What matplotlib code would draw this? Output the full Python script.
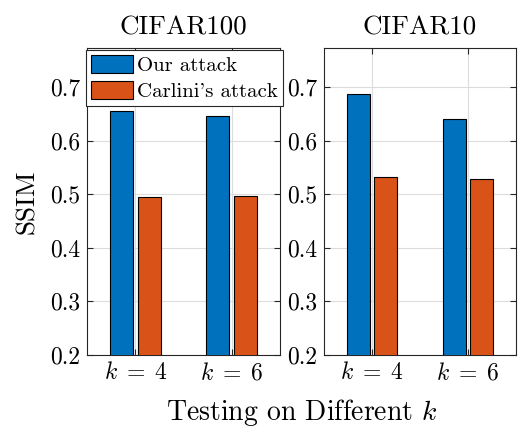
import numpy as np
import matplotlib
matplotlib.use("Agg")
import matplotlib.pyplot as plt

plt.rcParams['font.family'] = 'cmr10'
plt.rcParams['mathtext.fontset'] = 'cm'
plt.rcParams['axes.formatter.use_mathtext'] = True

groups = [r'$k\;=\;4$', r'$k\;=\;6$']
titles = ['CIFAR100', 'CIFAR10']
ours = [[0.655, 0.647], [0.688, 0.641]]
carlini = [[0.495, 0.496], [0.533, 0.528]]
series_names = ['Our attack', "Carlini's attack"]
colors = ['#0072BD', '#D95319']
yticks = [0.2, 0.3, 0.4, 0.5, 0.6, 0.7]

W, H = 518, 428
fig = plt.figure(figsize=(W / 100, H / 100), dpi=100)
ax_rects = [[87 / W, 73 / H, 193 / W, 307 / H],
            [324 / W, 73 / H, 192 / W, 307 / H]]

x = np.arange(1, len(groups) + 1)
width = 0.24
off = 0.145
for i, rect in enumerate(ax_rects):
    ax = fig.add_axes(rect)
    b1 = ax.bar(x - off, ours[i], width, color=colors[0], edgecolor='black', linewidth=0.8, zorder=3)
    b2 = ax.bar(x + off, carlini[i], width, color=colors[1], edgecolor='black', linewidth=0.8, zorder=3)
    ax.set_xlim(0.5, 2.5)
    ax.set_ylim(0.2, 0.773)
    ax.set_xticks(x)
    ax.set_xticklabels(groups)
    ax.set_yticks(yticks)
    ax.set_yticklabels(['%.1f' % v for v in yticks])
    ax.grid(True, color='#dcdcdc', linewidth=0.8, zorder=0)
    ax.tick_params(direction='in', top=True, right=True, labelsize=17, length=4,
                   color='#262626', pad=5)
    for s in ax.spines.values():
        s.set_color('#262626')
        s.set_linewidth(0.8)
    ax.set_title(titles[i], fontsize=19.5, pad=10)
    if i == 0:
        ax.set_ylabel('SSIM', fontsize=19.5, labelpad=8)
        leg = fig.legend([b1, b2], series_names, loc='upper left',
                         bbox_to_anchor=(86 / W, 1 - 50 / H), fontsize=15,
                         handlelength=2.05, handleheight=0.95, handletextpad=0.2,
                         borderaxespad=0, borderpad=0.22, labelspacing=0.3,
                         fancybox=False, framealpha=1, edgecolor='#262626')
        leg.get_frame().set_linewidth(0.8)

fig.text((87 + 516) / 2 / W, 1 - 412 / H, 'Testing on Different $k$', fontsize=20,
         ha='center', va='center')

plt.savefig('out.png', dpi=100)
